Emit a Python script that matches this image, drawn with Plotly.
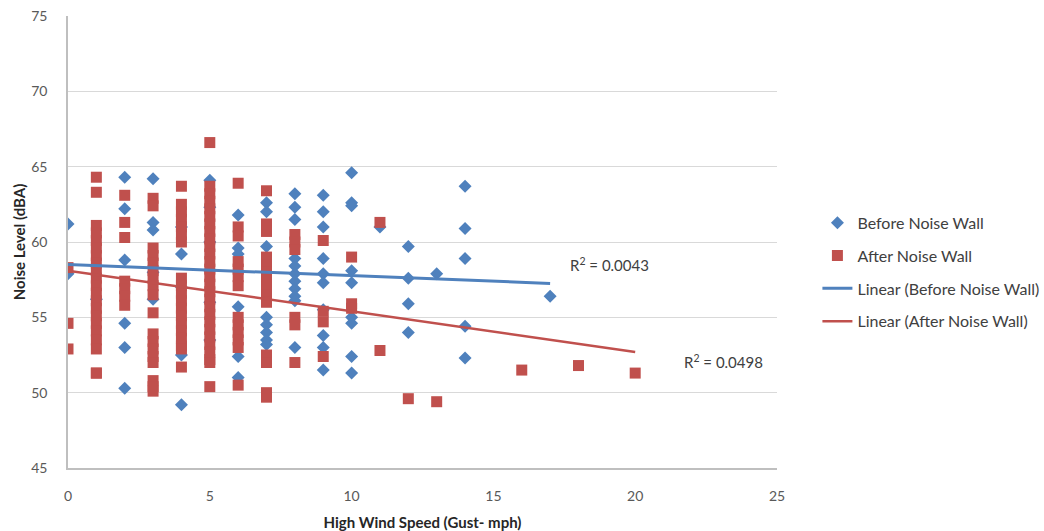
import plotly.graph_objects as go

# ---- data ----
before_x = [0, 0,
            1, 1,
            2, 2, 2, 2, 2, 2,
            3, 3, 3, 3, 3,
            4, 4, 4, 4, 4,
            5, 5, 5, 5, 5, 5,
            6, 6, 6, 6, 6, 6,
            7, 7, 7, 7, 7, 7, 7, 7,
            8, 8, 8, 8, 8, 8, 8, 8, 8, 8, 8,
            9, 9, 9, 9, 9, 9, 9, 9, 9, 9,
            10, 10, 10, 10, 10, 10, 10, 10, 10,
            11,
            12, 12, 12, 12,
            13,
            14, 14, 14, 14, 14,
            17]
before_y = [61.2, 57.9,
            58.4, 56.2,
            64.3, 62.2, 58.8, 54.6, 53.0, 50.3,
            64.2, 61.3, 60.8, 58.0, 56.2,
            61.0, 59.2, 57.0, 52.5, 49.2,
            64.1, 62.3, 60.0, 58.1, 56.0, 53.5,
            61.8, 59.6, 59.2, 55.7, 52.4, 51.0,
            62.6, 62.0, 59.7, 55.0, 54.5, 54.0, 53.5, 53.2,
            63.2, 62.3, 61.5, 58.9, 58.4, 57.9, 57.4, 56.9, 56.4, 56.1, 53.0,
            63.1, 62.0, 61.0, 58.9, 57.9, 57.3, 55.5, 53.8, 53.0, 51.5,
            64.6, 62.6, 62.4, 58.1, 57.3, 55.0, 54.6, 52.4, 51.3,
            61.0,
            59.7, 57.6, 55.9, 54.0,
            57.9,
            63.7, 60.9, 58.9, 54.4, 52.3,
            56.4]

after_x = [0, 0, 0,
           1, 1, 1, 1, 1, 1, 1, 1, 1, 1, 1, 1, 1, 1, 1, 1, 1, 1, 1, 1, 1,
           2, 2, 2, 2, 2, 2, 2,
           3, 3, 3, 3, 3, 3, 3, 3, 3, 3, 3, 3, 3, 3, 3, 3, 3, 3,
           4, 4, 4, 4, 4, 4, 4, 4, 4, 4, 4, 4, 4, 4, 4, 4, 4, 4, 4,
           5, 5, 5, 5, 5, 5, 5, 5, 5, 5, 5, 5, 5, 5, 5, 5, 5, 5, 5, 5, 5, 5, 5, 5, 5, 5, 5,
           6, 6, 6, 6, 6, 6, 6, 6, 6, 6, 6, 6, 6,
           7, 7, 7, 7, 7, 7, 7, 7, 7, 7, 7, 7, 7, 7,
           8, 8, 8, 8, 8, 8,
           9, 9, 9, 9,
           10, 10, 10,
           11, 11,
           12,
           13,
           16,
           18,
           20]
after_y = [58.3, 54.6, 52.9,
           64.3, 63.3, 61.1, 60.6, 60.1, 59.6, 59.1, 58.6, 58.1, 57.6, 57.1, 56.6, 56.1, 55.6, 55.1, 54.6, 54.1, 53.5, 52.9, 51.3, 51.3,
           63.1, 61.3, 60.3, 57.4, 56.9, 56.4, 55.8,
           62.9, 62.4, 59.6, 59.1, 58.6, 58.1, 57.6, 57.1, 56.5, 55.3, 53.9, 53.4, 52.9, 52.4, 52.0, 50.8, 50.4, 50.1,
           63.7, 62.5, 62.0, 61.5, 61.0, 60.5, 60.0, 57.6, 57.1, 56.6, 56.1, 55.6, 55.1, 54.6, 54.1, 53.6, 53.1, 52.9, 51.7,
           66.6, 63.7, 63.2, 62.7, 62.2, 61.7, 61.2, 60.7, 60.2, 59.7, 59.2, 58.7, 58.2, 57.7, 57.2, 56.7, 56.2, 55.7, 55.2, 54.7, 54.2, 53.7, 53.2, 52.7, 52.2, 52.0, 50.4,
           63.9, 61.0, 60.4, 58.7, 58.2, 57.7, 57.1, 55.0, 54.5, 54.0, 53.5, 53.0, 50.5,
           63.4, 61.2, 60.7, 59.0, 58.5, 58.0, 57.5, 57.0, 56.5, 56.0, 52.5, 52.0, 50.0, 49.7,
           60.5, 60.0, 59.5, 55.0, 54.5, 52.0,
           60.1, 55.4, 54.7, 52.4,
           59.0, 55.9, 55.6,
           61.3, 52.8,
           49.6,
           49.4,
           51.5,
           51.8,
           51.3]

trend_before_x = [0, 17]
trend_before_y = [58.5, 57.25]
trend_after_x = [0, 20]
trend_after_y = [58.1, 52.7]

r2_before = "R<sup>2</sup> = 0.0043"
r2_after = "R<sup>2</sup> = 0.0498"

BLUE = "#4F81BD"
RED = "#C0504D"
FONT = "Lato"
TXT = "#404040"

fig = go.Figure()
fig.add_trace(go.Scatter(
    x=before_x, y=before_y, mode="markers", name="Before Noise Wall",
    legendgroup="a",
    marker=dict(symbol="diamond", size=10, color=BLUE, line=dict(width=0))))
fig.add_trace(go.Scatter(
    x=after_x, y=after_y, mode="markers", name="After Noise Wall",
    legendgroup="b",
    marker=dict(symbol="square", size=11, color=RED, line=dict(width=0))))
fig.add_trace(go.Scatter(
    x=trend_before_x, y=trend_before_y, mode="lines",
    name="Linear (Before Noise Wall)", legendgroup="c",
    line=dict(color=BLUE, width=3)))
fig.add_trace(go.Scatter(
    x=trend_after_x, y=trend_after_y, mode="lines",
    name="Linear (After Noise Wall)", legendgroup="d",
    line=dict(color=RED, width=2.5)))

fig.add_annotation(x=19.08, y=58.5, text=r2_before, showarrow=False,
                   font=dict(family=FONT, size=15, color=TXT))
fig.add_annotation(x=23.13, y=52.05, text=r2_after, showarrow=False,
                   font=dict(family=FONT, size=15, color=TXT))

fig.update_layout(
    width=1044, height=531,
    margin=dict(l=68, r=267, t=16, b=63, autoexpand=False),
    paper_bgcolor="white", plot_bgcolor="white",
    font=dict(family=FONT, size=14, color=TXT),
    legend=dict(x=1.057, y=0.58, xanchor="left", yanchor="top",
                font=dict(family=FONT, size=16, color=TXT),
                tracegroupgap=9, bgcolor="rgba(0,0,0,0)"),
    xaxis=dict(range=[0, 25], dtick=5, tick0=0, showgrid=False,
               showline=True, linecolor="#BFBFBF", linewidth=1.5,
               zeroline=False, ticks="", ticklabelstandoff=14,
               tickfont=dict(family=FONT, size=14, color="#595959"),
               title=dict(text="<b>High Wind Speed (Gust- mph)</b>",
                          font=dict(family=FONT, size=15, color="#262626"),
                          standoff=17)),
    yaxis=dict(range=[45, 75], dtick=5, tick0=45, showgrid=True,
               gridcolor="#D9D9D9", gridwidth=1,
               showline=True, linecolor="#BFBFBF", linewidth=1.5,
               zeroline=False, ticks="", ticklabelstandoff=16,
               tickfont=dict(family=FONT, size=14, color="#595959"),
               title=dict(text="<b>Noise Level (dBA)</b>",
                          font=dict(family=FONT, size=15, color="#262626"),
                          standoff=2)),
)

fig.write_html("out.html")
